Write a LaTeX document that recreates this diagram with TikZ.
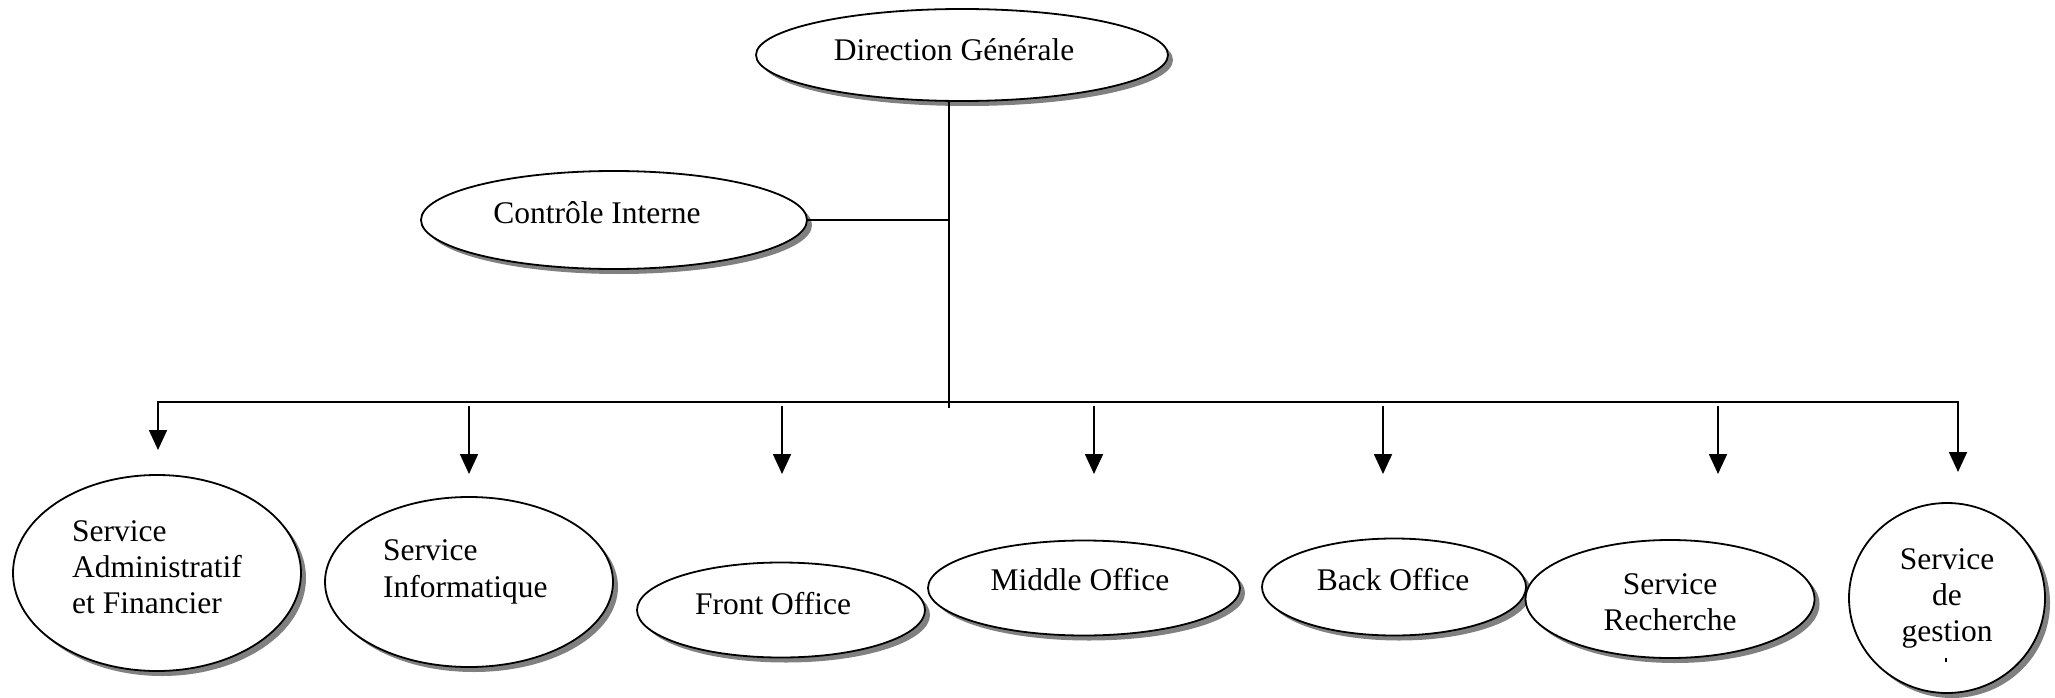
\documentclass[tikz,border=0pt]{standalone}
\usepackage{fontspec}
\setmainfont{Liberation Serif}
\usetikzlibrary{shapes.geometric,shadows,arrows.meta}
\begin{document}
\begin{tikzpicture}[x=1pt,y=-1pt,
  unit/.style={ellipse, draw, line width=1.8pt, fill=white, inner sep=0pt,
     drop shadow={shadow xshift=5pt, shadow yshift=-5pt, fill=black!50, opacity=1}},
  lbl/.style={inner sep=0pt, font=\fontsize{31.5}{36}\selectfont},
  wire/.style={line width=1.8pt},
  arr/.style={wire, -{Triangle[width=18pt,length=20pt]}}]
\useasboundingbox (0,0) rectangle (2055,698);

% top units
\node[unit, minimum width=412pt, minimum height=92pt] (dg) at (962,55) {};
\node[lbl, anchor=base] (dgt) at (954,61) {Direction Générale};
\node[unit, minimum width=386pt, minimum height=98pt] (ci) at (614,220) {};
\node[lbl, anchor=base] (cit) at (597,223) {Contrôle Interne};

% bottom units
\node[unit, minimum width=288pt, minimum height=196pt] (saf) at (157,573) {};
\node[lbl, anchor=base west] (saf1) at (72,541) {Service};
\node[lbl, anchor=base west] (saf2) at (72,577) {Administratif};
\node[lbl, anchor=base west] (saf3) at (72,613) {et Financier};

\node[unit, minimum width=288pt, minimum height=170pt] (si) at (469,582) {};
\node[lbl, anchor=base west] (si1) at (383,560) {Service};
\node[lbl, anchor=base west] (si2) at (383,597) {Informatique};

\node[unit, minimum width=288pt, minimum height=95pt] (fo) at (781,610) {};
\node[lbl, anchor=base] (fot) at (773,614) {Front Office};

\node[unit, minimum width=312pt, minimum height=95pt] (mo) at (1084,588) {};
\node[lbl, anchor=base] (mot) at (1080,590) {Middle Office};

\node[unit, minimum width=264pt, minimum height=97pt] (bo) at (1394,587) {};
\node[lbl, anchor=base] (bot) at (1393,590) {Back Office};

\node[unit, minimum width=289pt, minimum height=118pt] (sr) at (1670,599) {};
\node[lbl, anchor=base] (sr1) at (1670,594) {Service};
\node[lbl, anchor=base] (sr2) at (1670,630) {Recherche};

\node[unit, minimum width=196pt, minimum height=190pt] (sg) at (1947,598) {};
\node[lbl, anchor=base] (sg1) at (1947,569) {Service};
\node[lbl, anchor=base] (sg2) at (1947,605) {de};
\node[lbl, anchor=base] (sg3) at (1947,641) {gestion};
% clipped remnant of a fourth line
\draw[line width=2pt] (1946,658) -- (1946,662);

% connectors
\coordinate (tb) at (949,408);
\coordinate (bl) at (158,402);
\coordinate (br) at (1958,402);
\draw[wire] (dg.south -| tb) -- (tb);
\draw[wire] (ci.east) -- (ci.east -| tb);
\draw[wire, line cap=rect] (bl) -- (br);

\coordinate (a1) at (158,450);
\draw[arr] (bl) -- (a1);
\foreach \n/\x in {2/469,3/782,4/1094,5/1383,6/1718} {
  \coordinate (s\n) at (\x,406);
  \coordinate (a\n) at (\x,474);
  \draw[arr] (s\n) -- (a\n);
}
\coordinate (a7) at (1958,472);
\draw[arr] (br) -- (a7);
\end{tikzpicture}
\end{document}
